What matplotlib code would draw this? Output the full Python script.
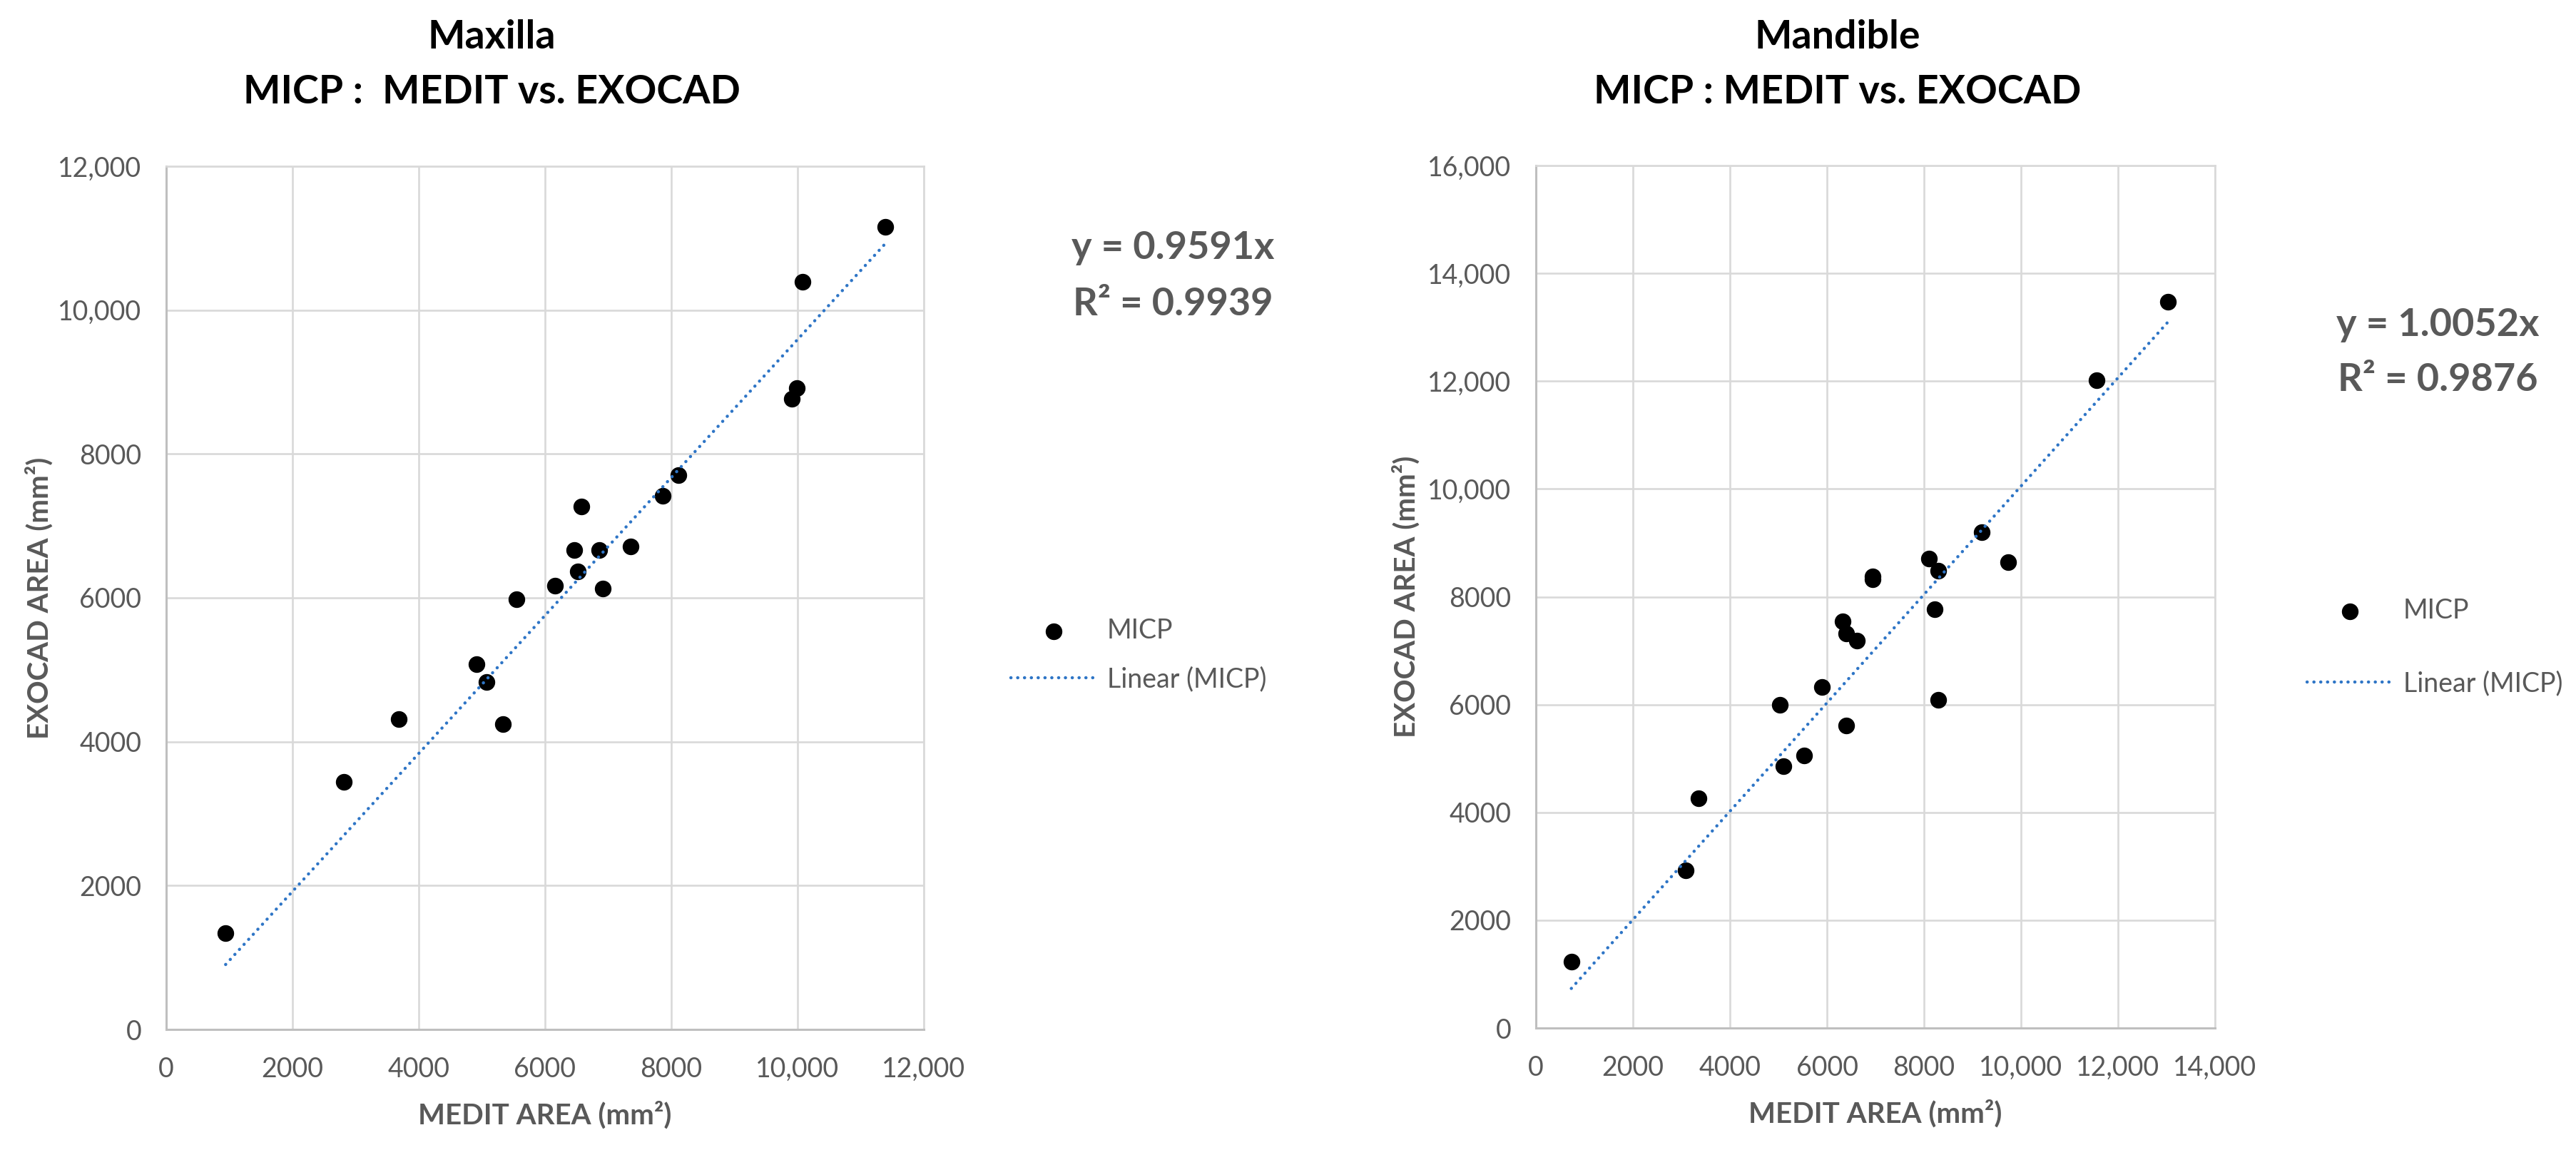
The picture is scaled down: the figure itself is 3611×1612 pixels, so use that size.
import matplotlib
matplotlib.use("Agg")
import matplotlib.pyplot as plt
from matplotlib.ticker import FuncFormatter, MultipleLocator

plt.rcParams['font.family'] = ['Lato', 'DejaVu Sans']

# Maxilla (MICP): MEDIT vs EXOCAD areas, mm^2
max_medit = [941, 2810, 3686, 4911, 5077, 5329, 5552, 6158, 6463, 6523,
             6580, 6855, 6915, 7356, 7861, 8109, 9908, 9987, 10078, 11386]
max_exocad = [1337, 3439, 4316, 5077, 4829, 4241, 5977, 6170, 6660, 6365,
              7269, 6660, 6127, 6710, 7418, 7709, 8765, 8918, 10398, 11153]

# Mandible (MICP)
mand_medit = [730, 3088, 3360, 5025, 5098, 5529, 5892, 6328, 6397, 6392, 6613,
              6941, 6941, 8108, 8294, 8216, 8289, 9186, 9735, 11556, 13032]
mand_exocad = [1229, 2921, 4259, 6000, 4854, 5056, 6320, 7539, 5609, 7319, 7183,
               8380, 8318, 8709, 8489, 7772, 6092, 9192, 8639, 12014, 13474]

titles = ["Maxilla", "Mandible"]
subtitles = ["MICP :  MEDIT vs. EXOCAD", "MICP : MEDIT vs. EXOCAD"]
slopes = [0.9591, 1.0052]
r2_text = ["0.9939", "0.9876"]
x_max = [12000, 14000]
y_max = [12000, 16000]

W, H = 3611, 1612
GRAY = '#595959'
GRID = '#d9d9d9'
BLUE = '#2e75c6'


def fx(px):
    return px / W


def fy(py):
    return 1 - py / H


def fmt(v, pos):
    v = int(round(v))
    return f"{v:,}" if v >= 10000 else str(v)


fig = plt.figure(figsize=(W / 100, H / 100), dpi=100)

# pixel layout of each panel
axes_px = [(233, 233, 1295, 1443), (2153, 232, 3105, 1441)]
title_x = [689, 2576]
eq_x = [1644, 3417]
eq_y = [(347, 426), (455, 533)]
leg_px = [(1417, 918, 0.85), (3234, 907, 1.75)]
ylab_x = [55, 1971]

data = [(max_medit, max_exocad), (mand_medit, mand_exocad)]

for i in range(2):
    l, t, r, b = axes_px[i]
    ax = fig.add_axes([fx(l), fy(b), fx(r - l), (b - t) / H])
    xs, ys = data[i]

    sc = ax.scatter(xs, ys, s=250, color='black', zorder=3, label='MICP')
    x0, x1 = min(xs), max(xs)
    ln, = ax.plot([x0, x1], [slopes[i] * x0, slopes[i] * x1], color=BLUE,
                  lw=3.2, linestyle=(0, (0.05, 2.1)), dash_capstyle='round',
                  zorder=4, label='Linear (MICP)')

    ax.set_xlim(0, x_max[i])
    ax.set_ylim(0, y_max[i])
    ax.xaxis.set_major_locator(MultipleLocator(2000))
    ax.yaxis.set_major_locator(MultipleLocator(2000))
    ax.xaxis.set_major_formatter(FuncFormatter(fmt))
    ax.yaxis.set_major_formatter(FuncFormatter(fmt))
    ax.grid(True, color=GRID, lw=1.9, zorder=0)
    ax.set_axisbelow(True)
    ax.tick_params(length=0, labelsize=27, labelcolor=GRAY)
    ax.tick_params(axis='x', pad=27)
    ax.tick_params(axis='y', pad=25)
    for side in ['top', 'right']:
        ax.spines[side].set_color(GRID)
        ax.spines[side].set_linewidth(1.9)
    for side in ['left', 'bottom']:
        ax.spines[side].set_color('#bfbfbf')
        ax.spines[side].set_linewidth(2.2)

    ax.set_xlabel("MEDIT AREA (mm²)", fontsize=29, fontweight='bold',
                  color=GRAY, va='center')
    ax.xaxis.set_label_coords(0.5, -120 / (b - t))
    ax.set_ylabel("EXOCAD AREA (mm²)", fontsize=29, fontweight='bold',
                  color=GRAY, va='center')
    ax.yaxis.set_label_coords((ylab_x[i] - l) / (r - l), 0.5)

    fig.text(fx(title_x[i]), fy(52), titles[i], fontsize=40, fontweight='bold',
             ha='center', va='center', color='black')
    fig.text(fx(title_x[i]), fy(129), subtitles[i], fontsize=40,
             fontweight='bold', ha='center', va='center', color='black')

    fig.text(fx(eq_x[i]), fy(eq_y[i][0]), f"y = {slopes[i]:.4f}x", fontsize=39,
             fontweight='bold', ha='center', va='center', color=GRAY)
    fig.text(fx(eq_x[i]), fy(eq_y[i][1]), f"R² = {r2_text[i]}", fontsize=39,
             fontweight='bold', ha='center', va='center', color=GRAY)

    lx, ly, sp = leg_px[i]
    leg = ax.legend(handles=[sc, ln], loc='center left',
                    bbox_to_anchor=(fx(lx), fy(ly)),
                    bbox_transform=fig.transFigure, frameon=False,
                    fontsize=27, borderpad=0, borderaxespad=0,
                    handlelength=3.2, handletextpad=0.4, labelspacing=sp,
                    scatterpoints=1)
    for txt in leg.get_texts():
        txt.set_color(GRAY)

fig.savefig("out.png", dpi=100)
